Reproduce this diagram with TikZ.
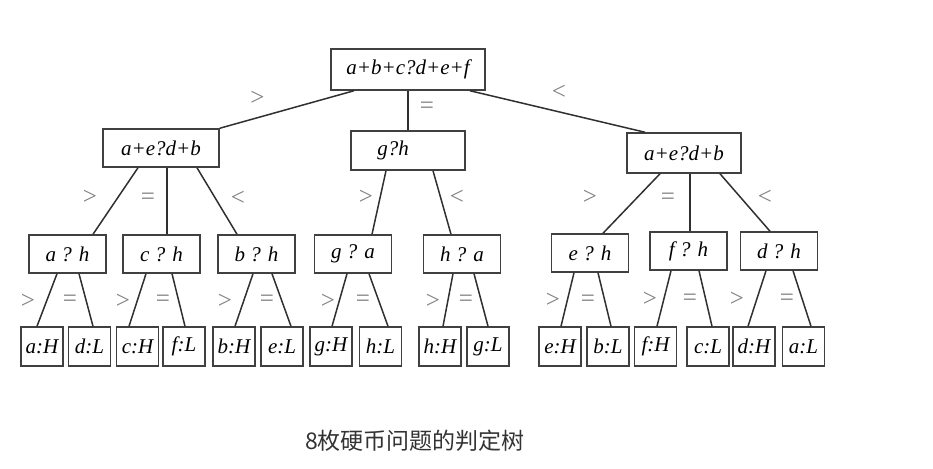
\documentclass[tikz,border=0pt]{standalone}
\usepackage{fontspec}
\setmainfont{Liberation Serif}
\newfontfamily\cjk{Noto Sans CJK SC}
\usetikzlibrary{calc}
\definecolor{boxgray}{HTML}{404040}
\definecolor{linegray}{HTML}{303030}
\definecolor{signgray}{HTML}{808080}
\definecolor{captiongray}{HTML}{333333}
\tikzset{
    box/.style={draw=boxgray, line width=1.5pt, inner sep=0pt, font=\fontsize{21}{25}\selectfont\itshape},
    test/.style={box, minimum width=77pt, minimum height=38pt},
    leaf/.style={box, minimum width=42pt, minimum height=39pt},
    branch/.style={draw=linegray, line width=1.5pt},
    sign/.style={midway, text=signgray, inner sep=0pt, font=\fontsize{25}{30}\selectfont}
}

\begin{document}
\begin{tikzpicture}[x=1pt, y=-1pt]
    \useasboundingbox (0,0) rectangle (933,468);

    %Weighings
    \node[box, minimum width=154pt, minimum height=41pt] (root) at (408, 69.5) {a+b+c?d+e+f};
    \node[box, minimum width=116pt, minimum height=38pt] (left) at (161, 148) {a+e?d+b};
    \node[box, minimum width=114pt, minimum height=39pt] (mid) at (408, 150.5) {g?h\hspace*{30pt}};
    \node[box, minimum width=114pt, minimum height=40pt] (right) at (684, 153) {a+e?d+b};

    \node[test] (ah) at (67.5, 254) {a ? h};
    \node[test] (ch) at (161.5, 254) {c ? h};
    \node[test] (bh) at (256.5, 254) {b ? h};
    \node[test] (ga) at (353, 254) {g ? a};
    \node[test] (ha) at (462, 254) {h ? a};
    \node[test] (eh) at (590, 253) {e ? h};
    \node[test] (fh) at (688.5, 251) {f ? h};
    \node[test] (dh) at (779, 251) {d ? h};

    %Results
    \node[leaf] (aH) at (42, 346.5) {a:H};
    \node[leaf] (dL) at (89.5, 346.5) {d:L};
    \node[leaf] (cH) at (137.5, 346.5) {c:H};
    \node[leaf] (fL) at (184, 346.5) {f:L};
    \node[leaf] (bH) at (234, 346.5) {b:H};
    \node[leaf] (eL) at (282, 346.5) {e:L};
    \node[leaf] (gH) at (331, 346.5) {g:H};
    \node[leaf] (hL) at (380.5, 346.5) {h:L};
    \node[leaf] (hH) at (440, 346.5) {h:H};
    \node[leaf] (gL) at (488, 346.5) {g:L};
    \node[leaf] (eH) at (560, 346.5) {e:H};
    \node[leaf] (bL) at (608, 346.5) {b:L};
    \node[leaf] (fH) at (655.5, 346.5) {f:H};
    \node[leaf] (cL) at (708, 346.5) {c:L};
    \node[leaf] (dH) at (754, 346.5) {d:H};
    \node[leaf] (aL) at (803.5, 346.5) {a:L};

    %Lines (first weighing)
    \draw[branch] ([xshift=-54]root.south) -- node[sign, xshift=-29.5, yshift=11.5]{>} (left.north east);
    \draw[branch] (root.south) -- node[sign, xshift=19, yshift=2.5]{=} (mid.north);
    \draw[branch] ([xshift=62]root.south) -- node[sign, xshift=1.5, yshift=19.5]{<} ([xshift=-39]right.north);

    %Lines (second weighing)
    \draw[branch] ([xshift=-23]left.south) -- node[sign, xshift=-25.5, yshift=4]{>} ([xshift=25.5]ah.north);
    \draw[branch] ([xshift=6]left.south) -- node[sign, xshift=-19, yshift=2]{=} ([xshift=5.5]ch.north);
    \draw[branch] ([xshift=36]left.south) -- node[sign, xshift=21, yshift=3]{<} ([xshift=-19.5]bh.north);
    \draw[branch] ([xshift=-22]mid.south) -- node[sign, xshift=-13, yshift=5.5]{>} ([xshift=19]ga.north);
    \draw[branch] ([xshift=25]mid.south) -- node[sign, xshift=15, yshift=5.5]{<} ([xshift=-11]ha.north);
    \draw[branch] ([xshift=-24]right.south) -- node[sign, xshift=-41.5, yshift=6.5]{>} ([xshift=13]eh.north);
    \draw[branch] ([xshift=6]right.south) -- node[sign, xshift=-22, yshift=3.5]{=} ([xshift=1.5]fh.north);
    \draw[branch] ([xshift=36]right.south) -- node[sign, xshift=20, yshift=5.5]{<} ([xshift=-9]dh.north);

    %Lines (third weighing)
    \draw[branch] ([xshift=-10.5]ah.south) -- node[sign, xshift=-19, yshift=-1]{>} ([xshift=-5]aH.north);
    \draw[branch] ([xshift=11.5]ah.south) -- node[sign, xshift=-16, yshift=-1]{=} ([xshift=3.5]dL.north);
    \draw[branch] ([xshift=-15.5]ch.south) -- node[sign, xshift=-14.5, yshift=-1]{>} ([xshift=-8.5]cH.north);
    \draw[branch] ([xshift=10.5]ch.south) -- node[sign, xshift=-15.5, yshift=-1]{=} ([xshift=1]fL.north);
    \draw[branch] ([xshift=-3.5]bh.south) -- node[sign, xshift=-19, yshift=-1]{>} ([xshift=1]bH.north);
    \draw[branch] ([xshift=15.5]bh.south) -- node[sign, xshift=-14.5, yshift=-1]{=} ([xshift=9]eL.north);
    \draw[branch] ([xshift=-6]ga.south) -- node[sign, xshift=-11.5, yshift=-1]{>} ([xshift=1]gH.north);
    \draw[branch] ([xshift=16]ga.south) -- node[sign, xshift=-15.5, yshift=-1]{=} ([xshift=7.5]hL.north);
    \draw[branch] ([xshift=-9]ha.south) -- node[sign, xshift=-15, yshift=-1]{>} ([xshift=3]hH.north);
    \draw[branch] ([xshift=12]ha.south) -- node[sign, xshift=-15, yshift=-1]{=} (gL.north);
    \draw[branch] ([xshift=-16]eh.south) -- node[sign, xshift=-14.5, yshift=-1]{>} ([xshift=1]eH.north);
    \draw[branch] ([xshift=8]eh.south) -- node[sign, xshift=-16.5, yshift=-1]{=} ([xshift=3]bL.north);
    \draw[branch] ([xshift=-17.5]fh.south) -- node[sign, xshift=-14, yshift=-1]{>} ([xshift=1.5]fH.north);
    \draw[branch] ([xshift=10.5]fh.south) -- node[sign, xshift=-15.5, yshift=-1]{=} ([xshift=4]cL.north);
    \draw[branch] ([xshift=-13]dh.south) -- node[sign, xshift=-20, yshift=-1]{>} ([xshift=-6]dH.north);
    \draw[branch] ([xshift=14]dh.south) -- node[sign, xshift=-15, yshift=-1]{=} ([xshift=7.5]aL.north);

    %Caption
    \node[text=captiongray, font=\cjk\fontsize{23}{28}\selectfont] (caption) at (415, 441) {8枚硬币问题的判定树};
\end{tikzpicture}
\end{document}
